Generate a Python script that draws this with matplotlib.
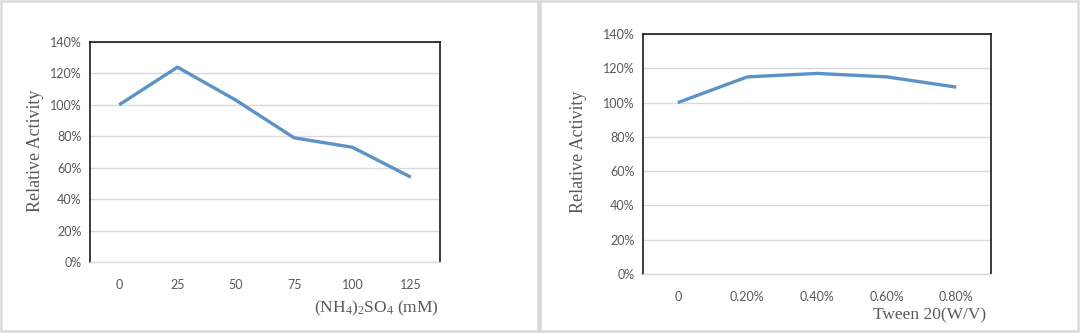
"""
Relative activity vs. (NH4)2SO4 and Tween 20 concentration
"""
import matplotlib
matplotlib.use("Agg")
import matplotlib.pyplot as plt
from matplotlib.patches import Rectangle
from matplotlib.ticker import FuncFormatter

# Data
salt_labels = ["0", "25", "50", "75", "100", "125"]
salt_activity = [100, 124, 103, 79, 73, 54]

tween_labels = ["0", "0.20%", "0.40%", "0.60%", "0.80%"]
tween_activity = [100, 115, 117, 115, 109]

y_ticks = [0, 20, 40, 60, 80, 100, 120, 140]

LINE_COLOR = "#5b93c6"
TEXT_GRAY = "#595959"
GRID_GRAY = "#d9d9d9"

plt.rcParams["mathtext.fontset"] = "custom"
plt.rcParams["mathtext.rm"] = "Liberation Serif"
plt.rcParams["mathtext.default"] = "regular"

fig = plt.figure(figsize=(10.8, 3.33), dpi=100)

# Panel frames
for x0, w in [(0.001, 0.497), (0.5, 0.498)]:
    fig.patches.append(Rectangle((x0, 0.006), w, 0.99, transform=fig.transFigure,
                                 fill=False, edgecolor=GRID_GRAY, linewidth=1.8))


def draw_panel(rect, labels, values, xlabel, xlabel_pos, ylabel_pos):
    ax = fig.add_axes(rect)
    xs = list(range(len(labels)))
    ax.plot(xs, values, color=LINE_COLOR, linewidth=2.4, solid_capstyle="butt", zorder=3)

    ax.set_xlim(-0.5, len(labels) - 0.5)
    ax.set_ylim(0, 140)
    ax.set_yticks(y_ticks)
    ax.yaxis.set_major_formatter(FuncFormatter(lambda v, _: f"{v:.0f}%"))
    ax.set_xticks(xs)
    ax.set_xticklabels(labels)

    ax.grid(axis="y", color=GRID_GRAY, linewidth=1.0)
    ax.set_axisbelow(True)
    ax.tick_params(length=0, labelsize=9, labelcolor=TEXT_GRAY, pad=6)
    ax.tick_params(axis="x", pad=12)
    for lbl in ax.get_xticklabels() + ax.get_yticklabels():
        lbl.set_fontfamily("Lato")

    for side in ["left", "top", "right"]:
        ax.spines[side].set_color("#1a1a1a")
        ax.spines[side].set_linewidth(1.2)
    ax.spines["bottom"].set_color(GRID_GRAY)
    ax.spines["bottom"].set_linewidth(1.0)

    fig.text(ylabel_pos[0], ylabel_pos[1], "Relative Activity", rotation=90,
             ha="center", va="center", fontsize=13, color=TEXT_GRAY,
             family="Liberation Serif")
    fig.text(xlabel_pos[0], xlabel_pos[1], xlabel, ha="right", va="center",
             fontsize=12.5, color=TEXT_GRAY, family="Liberation Serif")
    return ax


draw_panel([0.0833, 0.2132, 0.3241, 0.6607], salt_labels, salt_activity,
           r"(NH$_4$)$_2$SO$_4$ (mM)", (0.406, 0.075), (0.033, 0.547))
draw_panel([0.5954, 0.1772, 0.3222, 0.7207], tween_labels, tween_activity,
           "Tween 20(W/V)", (0.913, 0.054), (0.536, 0.543))

plt.savefig("out.png", dpi=100)
plt.close()
